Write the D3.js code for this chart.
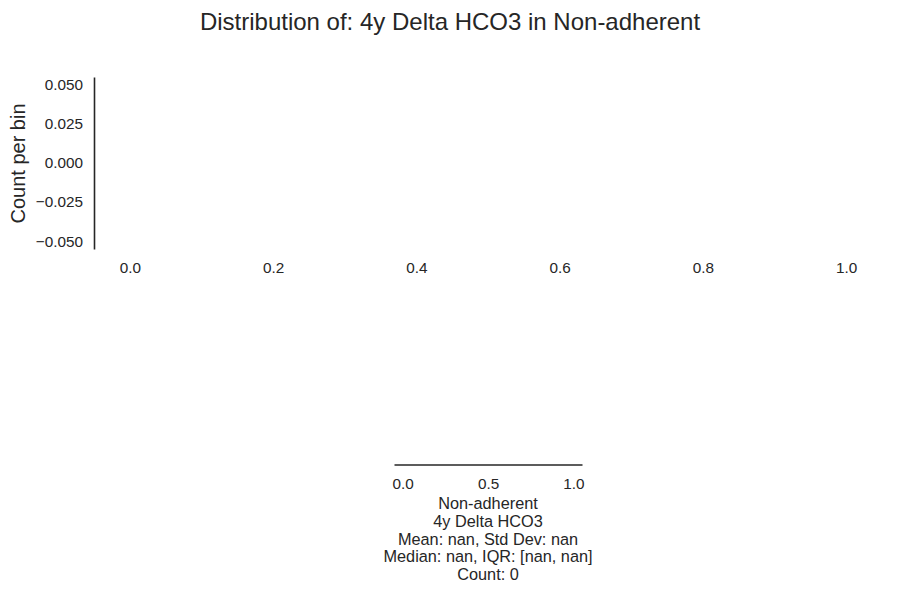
<!DOCTYPE html>
<html>
<head>
<meta charset="utf-8">
<script src="https://cdn.jsdelivr.net/npm/d3@7"></script>
<style>
  body { margin: 0; background: #fff; }
  text { font-family: "Liberation Sans", Arial, sans-serif; fill: #262626; }
</style>
</head>
<body>
<div id="chart"></div>
<script>
// empty group: no values, so no bars
var binCounts = [];
var binEdges = [];
var xTicks = [0.0, 0.2, 0.4, 0.6, 0.8, 1.0];
var yTicks = [0.050, 0.025, 0.000, -0.025, -0.050];
var boxTicks = [0.0, 0.5, 1.0];
var statLines = [
  "Non-adherent",
  "4y Delta HCO3",
  "Mean: nan, Std Dev: nan",
  "Median: nan, IQR: [nan, nan]",
  "Count: 0"
];
var title = "Distribution of: 4y Delta HCO3 in Non-adherent";

var W = 900, H = 600;
var svg = d3.select("#chart").append("svg")
  .attr("width", W).attr("height", H);

svg.append("text")
  .attr("x", 450).attr("y", 30)
  .attr("text-anchor", "middle")
  .style("font-size", "24px")
  .text(title);

// main histogram axes
var x = d3.scaleLinear().domain([-0.05, 1.05]).range([94, 882]);
var y = d3.scaleLinear().domain([-0.055, 0.055]).range([249, 77]);

var main = svg.append("g");

main.selectAll("rect.bar")
  .data(binCounts)
  .enter().append("rect")
  .attr("class", "bar")
  .attr("x", (d, i) => x(binEdges[i]))
  .attr("width", (d, i) => x(binEdges[i + 1]) - x(binEdges[i]))
  .attr("y", d => y(d))
  .attr("height", d => y(0) - y(d))
  .attr("fill", "#4c72b0");

var yAxis = main.append("g")
  .attr("transform", "translate(94,0)")
  .call(d3.axisLeft(y).tickValues(yTicks).tickSize(0).tickPadding(11)
    .tickFormat(d => d3.format(".3f")(d).replace("-", "\u2212")));
yAxis.select(".domain").attr("stroke", "#262626").attr("stroke-width", 1.6);
yAxis.selectAll("text").style("font-size", "15.3px").attr("fill", "#262626");

var xAxis = main.append("g")
  .attr("transform", "translate(0,249)")
  .call(d3.axisBottom(x).tickValues(xTicks).tickSize(0).tickPadding(13.5)
    .tickFormat(d3.format(".1f")));
xAxis.select(".domain").remove();
xAxis.selectAll("text").style("font-size", "15.3px").attr("fill", "#262626");

svg.append("text")
  .attr("transform", "translate(25,163.5) rotate(-90)")
  .attr("text-anchor", "middle")
  .style("font-size", "20px")
  .text("Count per bin");

// small summary axis below
var bx = d3.scaleLinear().domain([-0.05, 1.05]).range([394, 582]);
var boxAxis = svg.append("g")
  .attr("transform", "translate(0,464.5)")
  .call(d3.axisBottom(bx).tickValues(boxTicks).tickSize(0).tickPadding(13.5)
    .tickFormat(d3.format(".1f")));
boxAxis.select(".domain").attr("stroke", "#262626").attr("stroke-width", 1.6);
boxAxis.selectAll("text").style("font-size", "15.3px").attr("fill", "#262626");

svg.append("g").selectAll("text")
  .data(statLines)
  .enter().append("text")
  .attr("x", 488)
  .attr("y", (d, i) => 509 + i * 17.75)
  .attr("text-anchor", "middle")
  .style("font-size", "16.3px")
  .text(d => d);
</script>
</body>
</html>
